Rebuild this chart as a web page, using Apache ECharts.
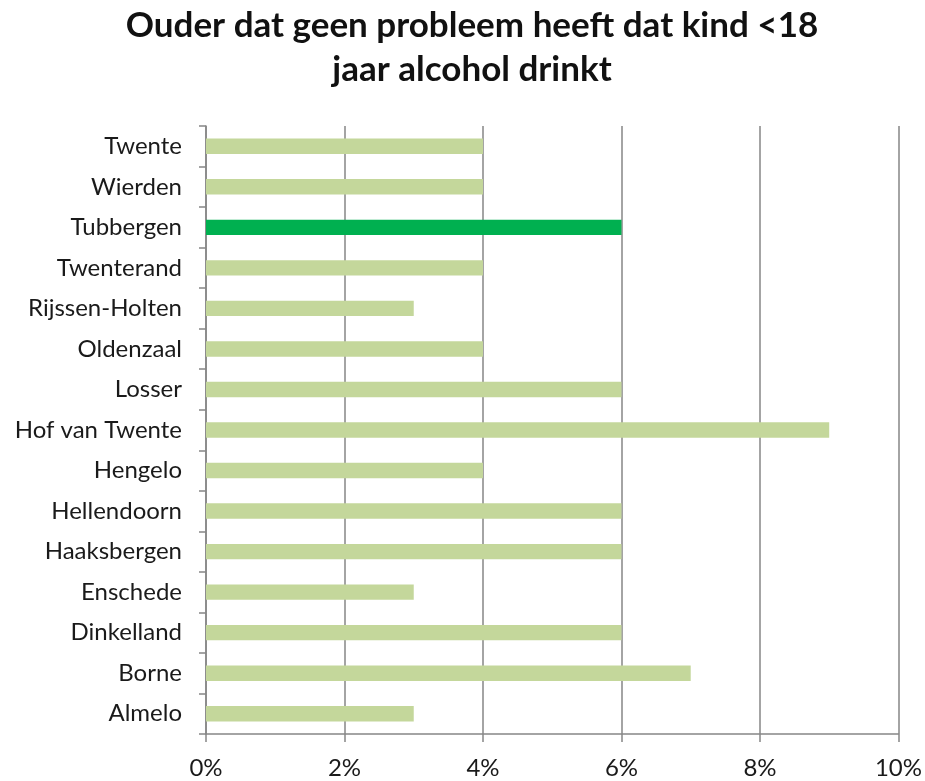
<!DOCTYPE html>
<html>
<head>
<meta charset="utf-8">
<script src="https://cdn.jsdelivr.net/npm/echarts@6/dist/echarts.min.js"></script>
<style>html,body{margin:0;padding:0;background:#fff}#c{width:925px;height:781px}</style>
</head>
<body>
<div id="c"></div>
<script>
var titleLines = ['Ouder dat geen probleem heeft dat kind <18', 'jaar alcohol drinkt'];
var categories = ['Almelo', 'Borne', 'Dinkelland', 'Enschede', 'Haaksbergen', 'Hellendoorn', 'Hengelo', 'Hof van Twente', 'Losser', 'Oldenzaal', 'Rijssen-Holten', 'Twenterand', 'Tubbergen', 'Wierden', 'Twente'];
var values = [3, 7, 6, 3, 6, 6, 4, 9, 6, 4, 3, 4, 6, 4, 4];
var highlighted = ['Tubbergen'];
var xTicks = [0, 2, 4, 6, 8, 10];

var FONT = 'Lato, "Open Sans", sans-serif';
var chart = echarts.init(document.getElementById('c'), null, {renderer: 'canvas'});
chart.setOption({
  animation: false,
  backgroundColor: '#ffffff',
  graphic: [{
    type: 'text',
    x: 472,
    y: 4,
    style: {
      text: titleLines.join('\n'),
      font: 'bold 35px ' + FONT,
      lineHeight: 44,
      textAlign: 'center',
      textVerticalAlign: 'top',
      fill: '#111111'
    }
  }],
  grid: {left: 206, right: 25, top: 126, bottom: 47, containLabel: false},
  xAxis: {
    type: 'value',
    min: xTicks[0],
    max: xTicks[xTicks.length - 1],
    interval: 2,
    axisLine: {show: true, lineStyle: {color: '#868686', width: 1.5}},
    axisTick: {show: true, length: 8, lineStyle: {color: '#868686', width: 1.5}},
    splitLine: {show: true, lineStyle: {color: '#868686', width: 1.5}},
    axisLabel: {
      formatter: '{value}%',
      fontFamily: FONT,
      fontSize: 24,
      color: '#1a1a1a',
      margin: 22
    }
  },
  yAxis: {
    type: 'category',
    data: categories,
    axisLine: {show: true, lineStyle: {color: '#868686', width: 1.5}},
    axisTick: {show: true, length: 7, lineStyle: {color: '#868686', width: 1.5}},
    splitLine: {show: false},
    axisLabel: {
      fontFamily: FONT,
      fontSize: 24,
      color: '#1a1a1a',
      margin: 24
    }
  },
  series: [{
    type: 'bar',
    barWidth: '38%',
    data: categories.map(function (c, i) {
      return {
        value: values[i],
        itemStyle: {color: highlighted.indexOf(c) >= 0 ? '#00B050' : '#C4D79B'}
      };
    })
  }]
});
</script>
</body>
</html>
